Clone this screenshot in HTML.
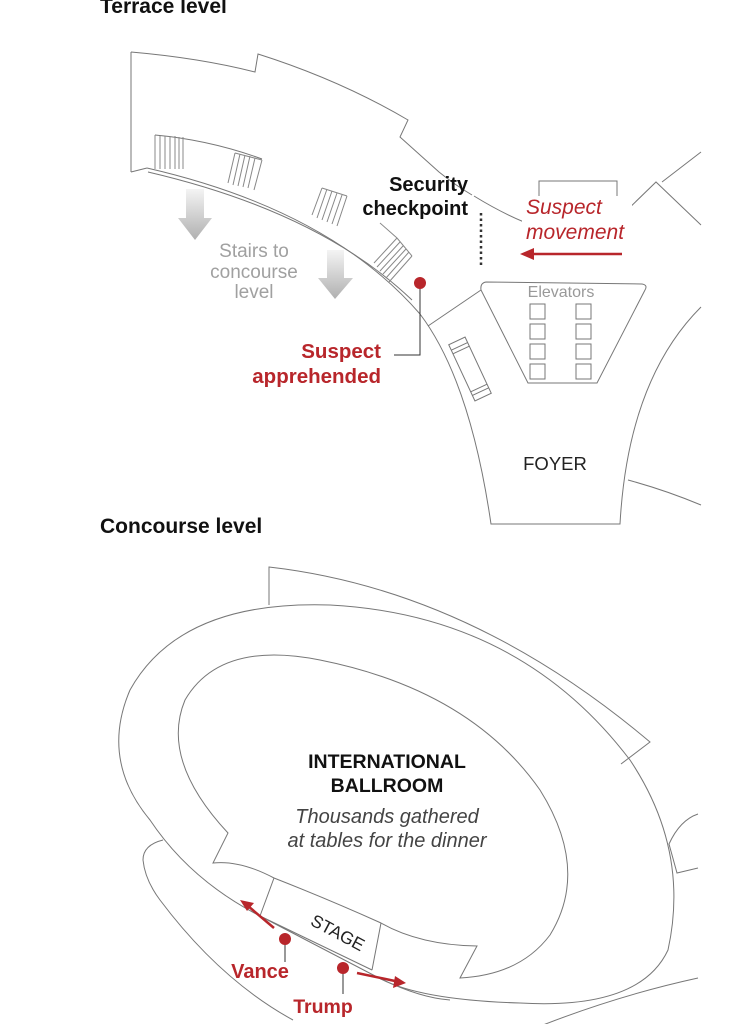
<!DOCTYPE html>
<html><head><meta charset="utf-8"><style>
html,body{margin:0;padding:0;background:#fff}
svg{display:block}
text{font-family:"Liberation Sans",Arial,sans-serif}
</style></head><body>
<svg width="753" height="1024" viewBox="0 0 753 1024" xmlns="http://www.w3.org/2000/svg">
<defs>
<linearGradient id="ga" x1="0" y1="0" x2="0" y2="1"><stop offset="0" stop-color="#f4f4f4"/><stop offset="1" stop-color="#b0b0b0"/></linearGradient>
</defs>
<text x="100" y="13" font-size="21" font-weight="bold" fill="#111">Terrace level</text>
<g fill="none" stroke="#777" stroke-width="1">
<path d="M131,52 L131,172 M131,52 Q200,58 255,72 L258,54 Q340,80 408,120 L400,137 Q420,155 439,172 Q455,185 472,195 M474,196 Q500,212 524,222"/>
<path d="M147,168 Q330,210 420,314 Q470,380 491,524 L620,524 Q628,380 701,307"/>
<path d="M131,172 L147,168 M148,172 Q320,212 412,300"/>
<path d="M155,135 Q210,140 262,159"/>
<g stroke="#888">
<path d="M155,135 L155,169 M183,137 L183,169 M160,136 V169 M165,136 V169 M170,136 V169 M175,136 V169 M179,137 V169"/>
<path d="M235,153 L228,183 M262,160 L254,190 M240,154 L233,185 M245,155 L238,186 M250,156 L243,187 M255,158 L248,188 M235,153 L262,160"/>
<path d="M322,188 L312,215 M347,196 L337,226 M322,188 L347,196 M327,189 L317,218 M332,191 L322,220 M337,193 L327,222 M342,195 L332,224"/>
<path d="M380,223 L397,238 M397,238 L374,263 M412,256 L389,282 M397,238 L412,256 M400,242 L377,267 M403,246 L380,271 M406,249 L383,274 M409,252 L386,278"/>
</g>
<path d="M539,216 L539,181 L617,181 L617,216"/>
<path d="M622,215 L656,182 L701,225 M662,182 L701,152"/>
<path d="M486,282 L642,284 Q648,285 645,290 L597,383 L528,383 L481,290 Q480,283 486,282 Z"/>
<path d="M481,290 L428,326"/>
<g>
<rect x="530" y="304" width="15" height="15"/><rect x="576" y="304" width="15" height="15"/>
<rect x="530" y="324" width="15" height="15"/><rect x="576" y="324" width="15" height="15"/>
<rect x="530" y="344" width="15" height="15"/><rect x="576" y="344" width="15" height="15"/>
<rect x="530" y="364" width="15" height="15"/><rect x="576" y="364" width="15" height="15"/>
</g>
<g transform="translate(470,369) rotate(-25)">
<rect x="-9" y="-31" width="18" height="62"/>
<path d="M-9,-25 H9 M-9,-21 H9 M-9,21 H9 M-9,25 H9"/>
</g>
<path d="M628,480 Q665,490 701,505"/>
</g>
<text x="561" y="297" font-size="16" fill="#999" text-anchor="middle">Elevators</text>
<path d="M186,189 H204 V218 H212 L195,240 L178,218 H186 Z" fill="url(#ga)"/>
<path d="M327,250 H344 V278 H353 L335,299 L318,278 H327 Z" fill="url(#ga)"/>
<g font-size="19" fill="#a0a0a0" text-anchor="middle">
<text x="254" y="257">Stairs to</text><text x="254" y="278">concourse</text><text x="254" y="298">level</text>
</g>
<path d="M481,213 V268" stroke="#333" stroke-width="2.5" stroke-dasharray="2.5,3"/>
<g font-size="20" font-weight="bold" fill="#111" text-anchor="end">
<text x="468" y="191">Security</text><text x="468" y="215">checkpoint</text>
</g>
<rect x="522" y="196" width="110" height="48" fill="#fff"/>
<g font-size="21" font-style="italic" fill="#b8262b">
<text x="526" y="214">Suspect</text><text x="526" y="239">movement</text>
</g>
<path d="M622,254 H532" stroke="#b8262b" stroke-width="2.5"/>
<path d="M520,254 L534,248 L534,260 Z" fill="#b8262b"/>
<path d="M420,283 V355 H394" stroke="#333" stroke-width="1" fill="none"/>
<circle cx="420" cy="283" r="6" fill="#b8262b"/>
<g font-size="20.5" font-weight="bold" fill="#b8262b" text-anchor="end">
<text x="381" y="358">Suspect</text><text x="381" y="383">apprehended</text>
</g>
<text x="555" y="470" font-size="18.5" fill="#222" text-anchor="middle">FOYER</text>

<text x="100" y="533" font-size="21" font-weight="bold" fill="#111">Concourse level</text>
<g fill="none" stroke="#777" stroke-width="1">
<path d="M269,605 L269,567 Q470,590 650,742 L621,764"/>
<path d="M150,820 Q100,760 130,690 Q180,600 330,605 Q520,615 630,760 Q690,850 668,950 Q640,1010 520,1003 Q420,1000 379,978 L260,916 Q190,880 150,820 Z"/>
<path d="M228,833 Q160,760 185,700 Q220,640 320,660 Q470,690 540,790 Q590,870 550,935 Q520,975 460,978 L477,946 Q420,945 381,923 Q330,900 274,878 Q240,860 213,863 Z"/>
<path d="M163,840 Q143,845 143,860 Q145,880 160,900 Q220,980 293,1020"/>
<path d="M274,878 L260,916 M260,916 L372,970 M381,923 L372,970"/>
<path d="M379,978 Q420,998 450,1000"/>
<path d="M543,1025 Q620,995 698,978"/>
<path d="M698,814 Q680,820 669,844 L677,873 L698,868"/>
</g>
<g text-anchor="middle">
<text x="387" y="768" font-size="19.5" font-weight="bold" fill="#111">INTERNATIONAL</text>
<text x="387" y="792" font-size="19.5" font-weight="bold" fill="#111">BALLROOM</text>
<text x="387" y="823" font-size="20" font-style="italic" fill="#444">Thousands gathered</text>
<text x="387" y="847" font-size="20" font-style="italic" fill="#444">at tables for the dinner</text>
</g>
<text x="0" y="0" font-size="17.5" fill="#222" text-anchor="middle" transform="translate(335,938) rotate(28)">STAGE</text>
<path d="M274,928 L248,906" stroke="#b8262b" stroke-width="2.5"/>
<path d="M240,900 L254,903 L247,911 Z" fill="#b8262b"/>
<path d="M357,973 L395,981" stroke="#b8262b" stroke-width="2.5"/>
<path d="M406,983 L393,988 L395,976 Z" fill="#b8262b"/>
<path d="M285,939 V962 M343,968 V994" stroke="#333" stroke-width="1"/>
<circle cx="285" cy="939" r="6" fill="#b8262b"/>
<circle cx="343" cy="968" r="6" fill="#b8262b"/>
<text x="260" y="978" font-size="20" font-weight="bold" fill="#b8262b" text-anchor="middle">Vance</text>
<text x="323" y="1013" font-size="19.5" font-weight="bold" fill="#b8262b" text-anchor="middle">Trump</text>
</svg>
</body></html>
